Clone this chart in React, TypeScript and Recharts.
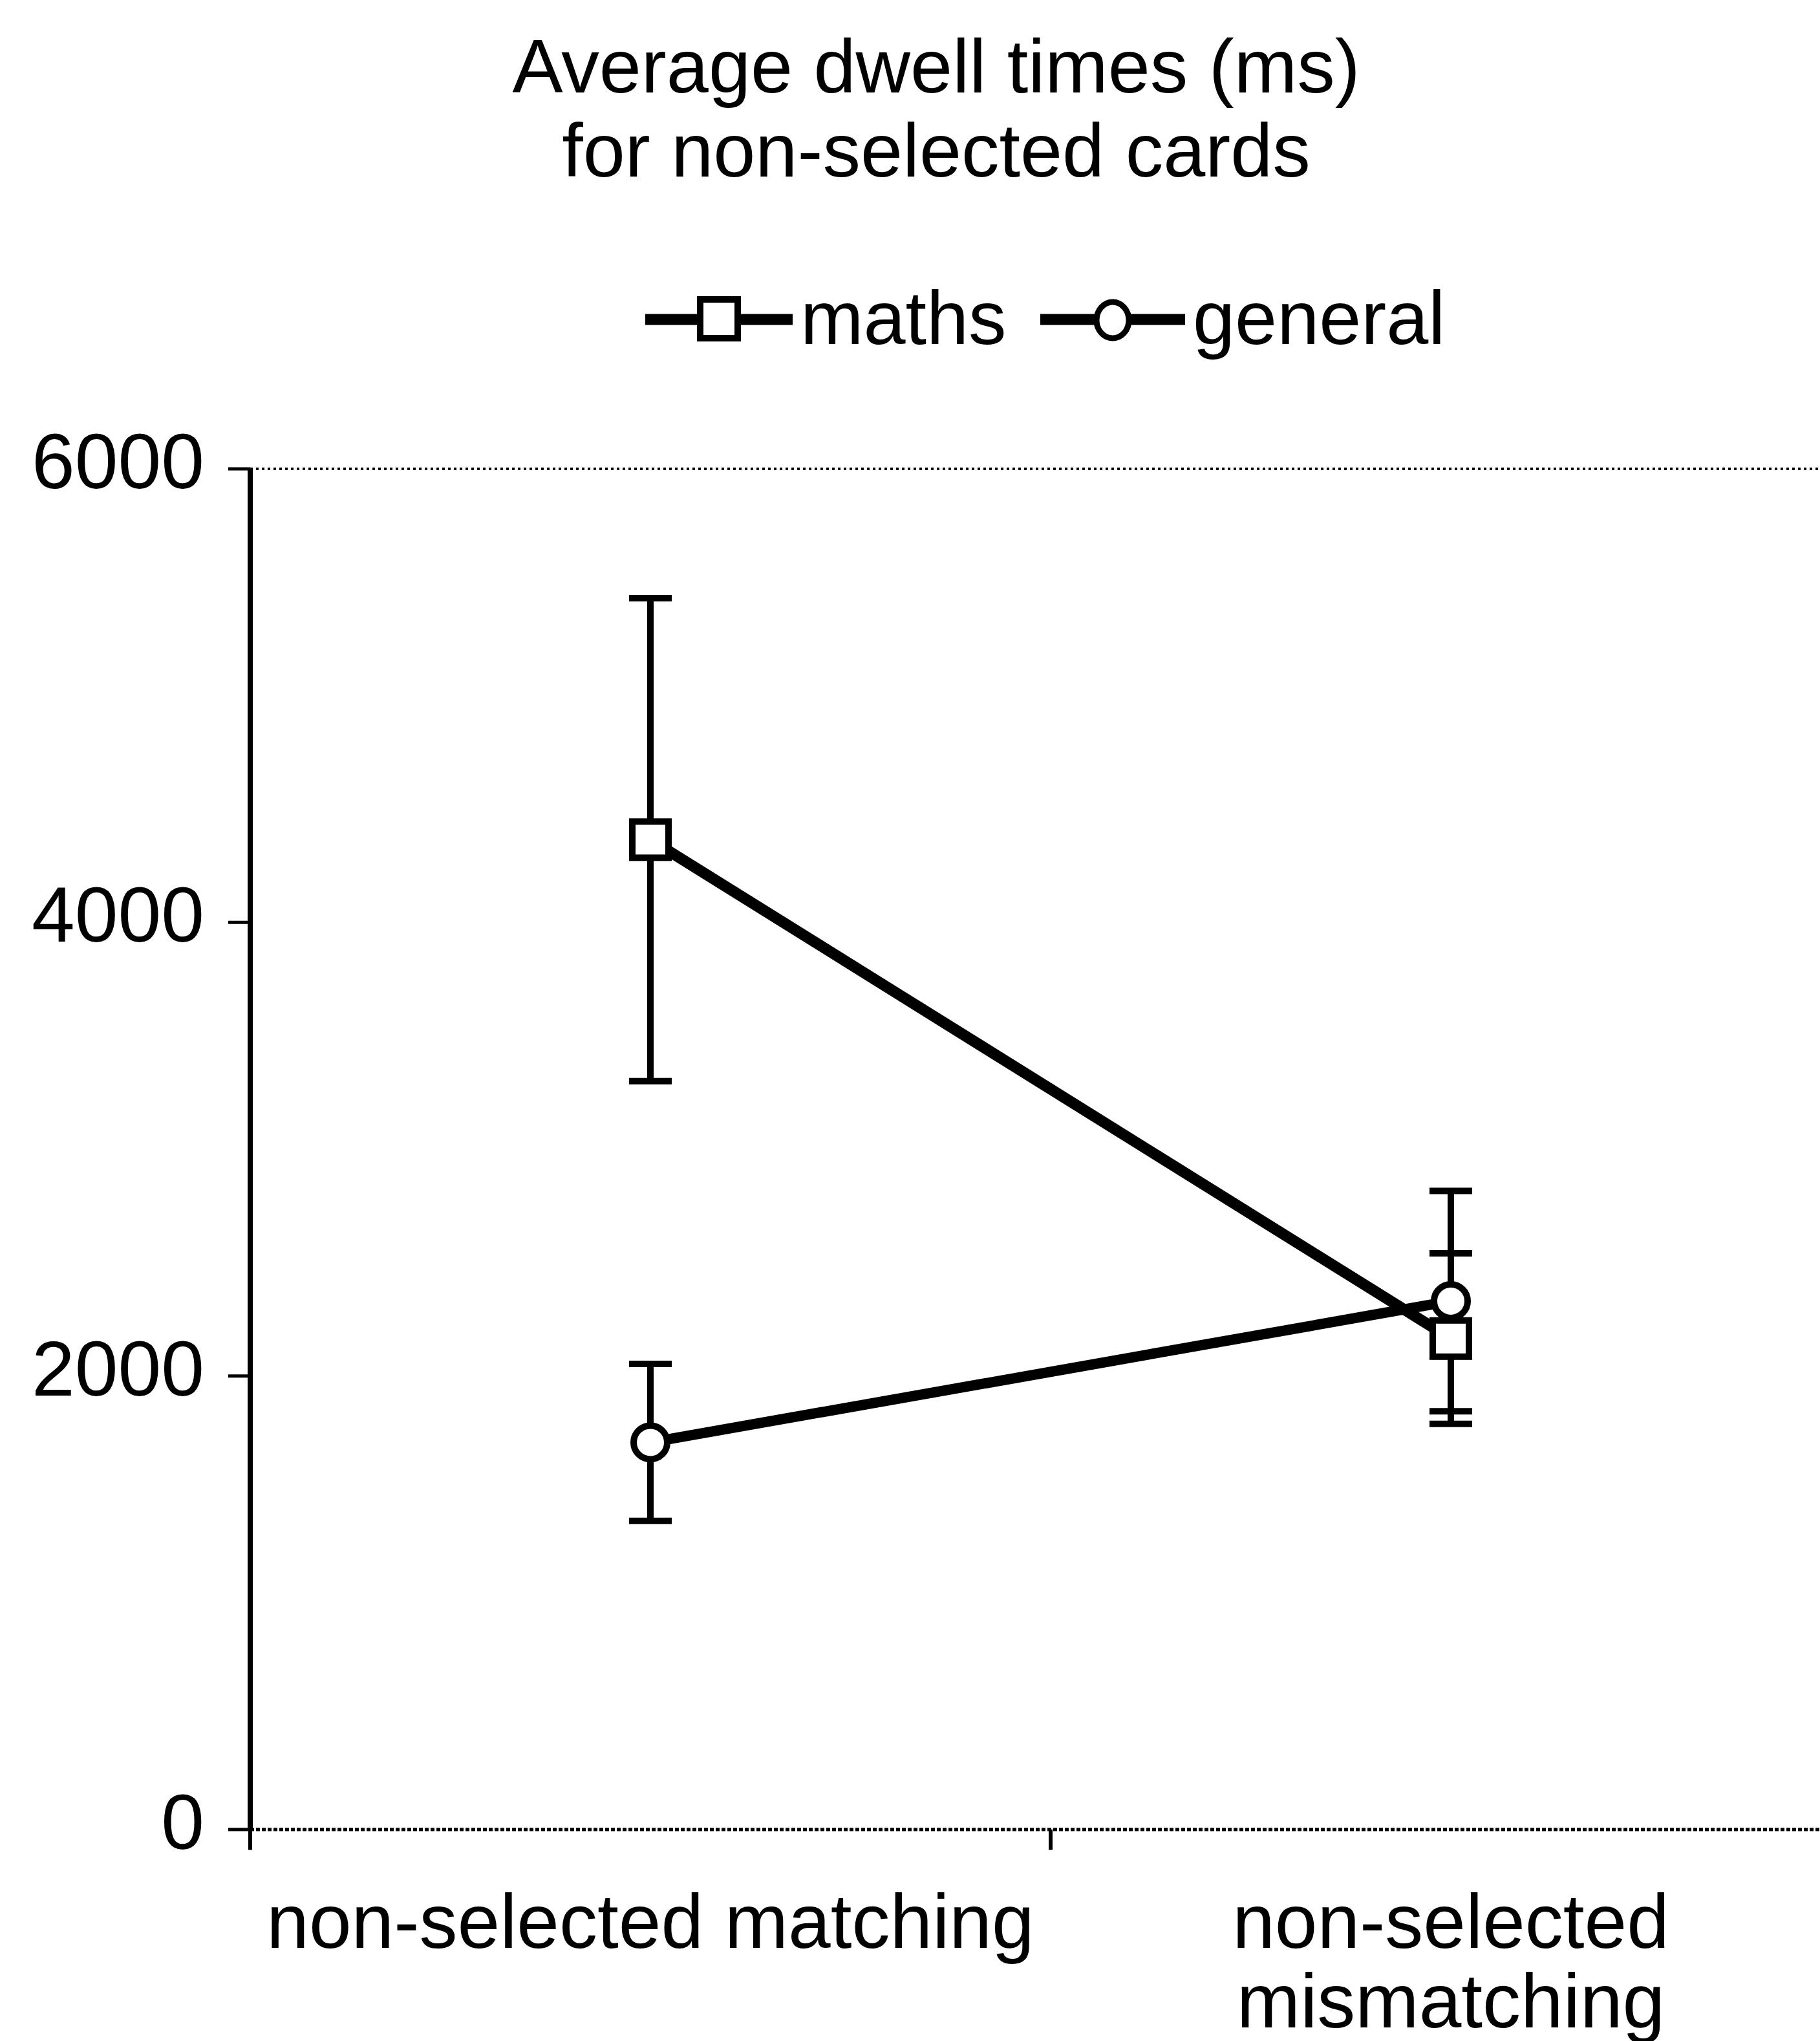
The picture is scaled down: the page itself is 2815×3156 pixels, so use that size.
import React from 'react';
import { LineChart, Line, XAxis, YAxis, ErrorBar, ReferenceLine } from 'recharts';

// values
const categories = ['non-selected matching', 'non-selected mismatching'];
const mathsMeans = [4365, 2165];
const mathsErrors = [1065, 376];
const generalMeans = [1707, 2330];
const generalErrors = [346, 486];
const yTicks = [0, 2000, 4000, 6000];
const titleLines = ['Average dwell times (ms)', 'for non-selected cards'];
const seriesNames = ['maths', 'general'];

const FONT = '"Liberation Sans", Arial, Helvetica, sans-serif';
const W = 2900;
const H = 3156;
const Y_AXIS_W = 387;
const X_AXIS_H = 327;
const margin = { top: 725, right: 37, left: 0, bottom: 0 };
const bandWidth = (W - Y_AXIS_W - margin.right) / categories.length;

const data = categories.map((category, i) => ({
  category,
  maths: mathsMeans[i],
  mathsErr: mathsErrors[i],
  general: generalMeans[i],
  generalErr: generalErrors[i],
}));

// word wrap measured with a canvas, like Excel wraps category labels
let ctx: CanvasRenderingContext2D | null = null;
function wrap(label: string, fontSize: number, maxW: number) {
  if (!ctx) ctx = document.createElement('canvas').getContext('2d');
  if (!ctx) return [label];
  ctx.font = `${fontSize}px ${FONT}`;
  const words = label.split(' ');
  const lines: string[] = [];
  let cur = '';
  words.forEach((w) => {
    const next = cur ? `${cur} ${w}` : w;
    if (cur && ctx!.measureText(next).width > maxW) {
      lines.push(cur);
      cur = w;
    } else {
      cur = next;
    }
  });
  if (cur) lines.push(cur);
  return lines;
}

const SquareDot = (props: any) => {
  const { cx, cy, index } = props;
  if (cx == null || cy == null) return null;
  return (
    <rect key={`sq-${index}`} x={cx - 28} y={cy - 28} width={56} height={56}
      fill="#fff" stroke="#000" strokeWidth={10} />
  );
};

const YTick = ({ x, y, payload }: any) => (
  <text x={x} y={y + 30} textAnchor="end" fontSize={120} fontFamily={FONT} fill="#000">
    {payload.value}
  </text>
);

const XTick = ({ x, y, payload }: any) => {
  const lines = wrap(String(payload.value), 118, bandWidth);
  return (
    <text x={x} y={y + 183} textAnchor="middle" fontSize={118} fontFamily={FONT} fill="#000">
      {lines.map((l, i) => (
        <tspan key={i} x={x} dy={i === 0 ? 0 : 123}>{l}</tspan>
      ))}
    </text>
  );
};

// legend placement (icon line span, marker centre, text start)
const legendItems = [
  { x1: 998, x2: 1226, mx: 1112, tx: 1238, marker: 'square' },
  { x1: 1609, x2: 1833, mx: 1721, tx: 1845, marker: 'circle' },
];

export default function App() {
  return (
    <div style={{ position: 'absolute', left: 0, top: 0, width: 2815, height: H, overflow: 'hidden', background: '#fff' }}>
      <LineChart width={W} height={H} data={data} margin={margin}>
        <XAxis dataKey="category" type="category" scale="band" interval={0} height={X_AXIS_H}
          tickLine={false} tickSize={0} tickMargin={0}
          axisLine={{ stroke: '#000', strokeWidth: 5, strokeDasharray: '6 3' }} tick={XTick} />
        <YAxis width={Y_AXIS_W} domain={[0, 6000]} ticks={yTicks} interval={0} tickSize={34} tickMargin={37}
          axisLine={{ stroke: '#000', strokeWidth: 8 }} tickLine={{ stroke: '#000', strokeWidth: 5 }}
          tick={YTick} allowDataOverflow />
        <ReferenceLine y={6000} stroke="#000" strokeWidth={4} strokeDasharray="4 5" />
        {categories.map((c) => (
          <ReferenceLine key={c} segment={[{ x: c, y: 0 }, { x: c, y: -90 }]} position="start"
            ifOverflow="visible" stroke="#000" strokeWidth={6} />
        ))}
        <Line type="linear" dataKey="maths" stroke="#000" strokeWidth={17} dot={SquareDot}
          activeDot={false} isAnimationActive={false}>
          <ErrorBar dataKey="mathsErr" direction="y" width={33} stroke="#000" strokeWidth={10} />
        </Line>
        <Line type="linear" dataKey="general" stroke="#000" strokeWidth={16}
          dot={{ r: 26, fill: '#fff', stroke: '#000', strokeWidth: 10 }}
          activeDot={false} isAnimationActive={false}>
          <ErrorBar dataKey="generalErr" direction="y" width={33} stroke="#000" strokeWidth={10} />
        </Line>
      </LineChart>

      <svg width={2815} height={600} style={{ position: 'absolute', left: 0, top: 0, pointerEvents: 'none' }}>
        {titleLines.map((t, i) => (
          <text key={t} x={1448} y={143 + i * 130} textAnchor="middle" fontSize={117} fontFamily={FONT} fill="#000">
            {t}
          </text>
        ))}
        {legendItems.map((it, i) => (
          <g key={seriesNames[i]}>
            <line x1={it.x1} x2={it.x2} y1={494} y2={494} stroke="#000" strokeWidth={17} />
            {it.marker === 'square' ? (
              <rect x={it.mx - 29} y={463} width={58} height={60} fill="#fff" stroke="#000" strokeWidth={10} />
            ) : (
              <ellipse cx={it.mx} cy={495} rx={25} ry={28} fill="#fff" stroke="#000" strokeWidth={9} />
            )}
            <text x={it.tx} y={532} fontSize={117} fontFamily={FONT} fill="#000">{seriesNames[i]}</text>
          </g>
        ))}
      </svg>
    </div>
  );
}
